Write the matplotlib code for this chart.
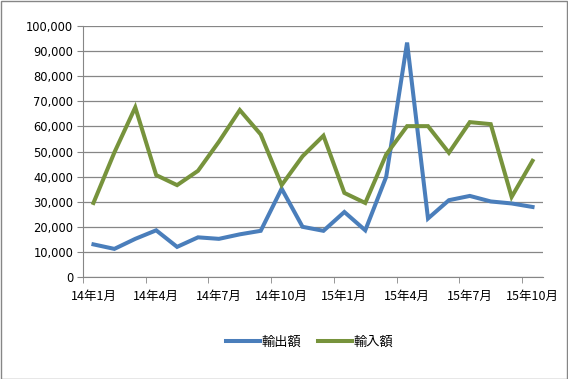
import matplotlib.pyplot as plt
from matplotlib.ticker import FuncFormatter, FixedLocator
from matplotlib.patches import Rectangle

plt.rcParams['font.family'] = ['Noto Sans CJK JP', 'DejaVu Sans']

# --- データ ---
months = ['14年1月', '14年2月', '14年3月', '14年4月', '14年5月', '14年6月',
          '14年7月', '14年8月', '14年9月', '14年10月', '14年11月', '14年12月',
          '15年1月', '15年2月', '15年3月', '15年4月', '15年5月', '15年6月',
          '15年7月', '15年8月', '15年9月', '15年10月']
exports = [13000, 11200, 15200, 18600, 12000, 15800, 15200, 17000, 18400, 35200, 20000,
           18400, 25900, 18600, 39900, 93400, 23300, 30600, 32300, 30100, 29300, 27900]
imports = [29500, 49600, 67600, 40600, 36600, 42300, 53900, 66500, 56800, 36600, 48100,
           56300, 33500, 29500, 48800, 60100, 60100, 49500, 61700, 60900, 31900, 46300]

fig = plt.figure(figsize=(5.68, 3.79), dpi=100)
ax = fig.add_axes([83 / 568, 1 - 277 / 379, 460 / 568, 251 / 379])

x = list(range(len(months)))
ax.plot(x, exports, color='#4a7ebb', lw=2.9, label='輸出額', solid_joinstyle='miter')
ax.plot(x, imports, color='#77933c', lw=2.9, label='輸入額', solid_joinstyle='miter')

ax.set_xlim(-0.5, len(months) - 0.5)
ax.set_ylim(0, 100000)
ax.set_yticks(range(0, 100001, 10000))
ax.yaxis.set_major_formatter(FuncFormatter(lambda v, p: f'{int(v):,}'))
ax.grid(axis='y', color='#868686', lw=0.9)
ax.set_axisbelow(True)

# ラベルは3か月ごと、目盛りはカテゴリの境目
lab_idx = list(range(0, len(months), 3))
ax.set_xticks(lab_idx)
ax.set_xticklabels([months[i] for i in lab_idx], fontsize=9)
ax.xaxis.set_minor_locator(FixedLocator([i - 0.5 for i in lab_idx]))
ax.tick_params(axis='x', which='major', length=0, pad=9)
ax.tick_params(axis='x', which='minor', length=4, color='#868686')
ax.tick_params(axis='y', length=4, color='#868686', labelsize=8.3, pad=3)
for lab in ax.get_yticklabels():
    lab.set_family('DejaVu Sans')

for s in ['top', 'right']:
    ax.spines[s].set_visible(False)
for s in ['left', 'bottom']:
    ax.spines[s].set_color('#868686')

fig.legend(loc='center', bbox_to_anchor=(0.545, 1 - 342 / 379), ncol=2, frameon=False,
           fontsize=9.5, handlelength=2.6, handletextpad=0.1, columnspacing=1.3)

fig.patches.append(Rectangle((0.001, 0.001), 0.997, 0.997, transform=fig.transFigure,
                             fill=False, edgecolor='#868686', lw=1))

plt.savefig('out.png', dpi=100)
